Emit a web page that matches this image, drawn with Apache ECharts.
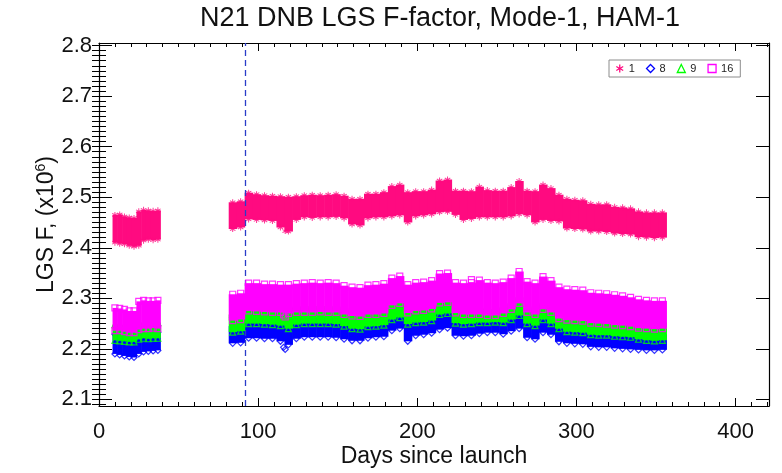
<!DOCTYPE html>
<html>
<head>
<meta charset="utf-8">
<script src="https://cdn.jsdelivr.net/npm/echarts@6/dist/echarts.min.js"></script>
<style>
  html, body { margin: 0; padding: 0; background: #fff; }
  #chart { width: 782px; height: 473px; }
</style>
</head>
<body>
<div id="chart"></div>
<script>
// Sample days (first block before the gap, then the long run)
const days = [
  10, 13, 16, 19, 22, 25, 28, 31, 34, 37,
  84, 89, 94, 99, 104, 109, 114, 119, 124, 129,
  134, 139, 144, 149, 154, 159, 164, 169, 174, 179,
  184, 189, 194, 199, 204, 209, 214, 219, 224, 229,
  234, 239, 244, 249, 254, 259, 264, 269, 274, 279,
  284, 289, 294, 299, 304, 309, 314, 319, 324, 329,
  334, 339, 344, 349, 354
];

// Detector 1: upper / lower envelope of the F-factor scatter
const f1Hi = [
  2.465, 2.466, 2.462, 2.460, 2.459, 2.472, 2.475, 2.474, 2.473, 2.474,
  2.490, 2.492, 2.509, 2.506, 2.504, 2.503, 2.502, 2.501, 2.502, 2.504,
  2.505, 2.504, 2.505, 2.506, 2.503, 2.497, 2.497, 2.507, 2.507, 2.510,
  2.522, 2.525, 2.510, 2.512, 2.512, 2.515, 2.533, 2.535, 2.513, 2.513,
  2.512, 2.521, 2.514, 2.513, 2.513, 2.520, 2.532, 2.513, 2.512, 2.525,
  2.518, 2.505, 2.497, 2.495, 2.494, 2.487, 2.486, 2.486, 2.481, 2.480,
  2.478, 2.472, 2.470, 2.470, 2.470
];
const f1Lo = [
  2.410, 2.408, 2.407, 2.404, 2.402, 2.404, 2.414, 2.416, 2.415, 2.416,
  2.437, 2.440, 2.456, 2.455, 2.454, 2.453, 2.440, 2.432, 2.455, 2.460,
  2.459, 2.460, 2.460, 2.461, 2.458, 2.446, 2.444, 2.458, 2.460, 2.460,
  2.462, 2.464, 2.450, 2.462, 2.464, 2.466, 2.470, 2.471, 2.465, 2.455,
  2.457, 2.460, 2.460, 2.460, 2.460, 2.462, 2.466, 2.464, 2.450, 2.455,
  2.453, 2.452, 2.438, 2.437, 2.436, 2.432, 2.432, 2.431, 2.428, 2.427,
  2.426, 2.421, 2.420, 2.419, 2.420
];

// Detector 8
const f8Hi = [
  2.229, 2.228, 2.227, 2.226, 2.226, 2.231, 2.233, 2.232, 2.233, 2.233,
  2.245, 2.247, 2.262, 2.262, 2.261, 2.260, 2.258, 2.252, 2.260, 2.262,
  2.262, 2.262, 2.262, 2.261, 2.257, 2.252, 2.251, 2.256, 2.257, 2.259,
  2.270, 2.274, 2.261, 2.264, 2.265, 2.268, 2.280, 2.282, 2.263, 2.261,
  2.262, 2.264, 2.264, 2.265, 2.264, 2.270, 2.278, 2.262, 2.258, 2.270,
  2.262, 2.252, 2.246, 2.245, 2.244, 2.240, 2.239, 2.239, 2.237, 2.236,
  2.235, 2.231, 2.229, 2.228, 2.229
];
const f8Lo = [
  2.190, 2.188, 2.186, 2.184, 2.183, 2.190, 2.194, 2.195, 2.196, 2.197,
  2.211, 2.212, 2.221, 2.221, 2.220, 2.220, 2.215, 2.208, 2.220, 2.223,
  2.223, 2.223, 2.223, 2.222, 2.219, 2.216, 2.216, 2.221, 2.223, 2.224,
  2.236, 2.240, 2.215, 2.226, 2.228, 2.231, 2.238, 2.241, 2.226, 2.225,
  2.226, 2.230, 2.232, 2.232, 2.229, 2.235, 2.240, 2.222, 2.219, 2.232,
  2.228, 2.214, 2.211, 2.210, 2.209, 2.204, 2.203, 2.203, 2.201, 2.200,
  2.199, 2.198, 2.197, 2.197, 2.198
];

// Detector 9
const f9Hi = [
  2.248, 2.248, 2.246, 2.244, 2.244, 2.250, 2.252, 2.252, 2.253, 2.252,
  2.268, 2.270, 2.287, 2.286, 2.285, 2.284, 2.284, 2.282, 2.284, 2.284,
  2.284, 2.285, 2.284, 2.284, 2.280, 2.277, 2.276, 2.280, 2.280, 2.282,
  2.298, 2.302, 2.283, 2.287, 2.288, 2.291, 2.303, 2.304, 2.283, 2.280,
  2.280, 2.280, 2.278, 2.278, 2.282, 2.290, 2.302, 2.284, 2.280, 2.290,
  2.284, 2.272, 2.269, 2.268, 2.267, 2.263, 2.262, 2.261, 2.259, 2.258,
  2.256, 2.253, 2.252, 2.251, 2.252
];
const f9Lo = [
  2.217, 2.216, 2.215, 2.214, 2.214, 2.219, 2.221, 2.220, 2.221, 2.221,
  2.233, 2.235, 2.250, 2.250, 2.249, 2.248, 2.246, 2.240, 2.248, 2.250,
  2.250, 2.250, 2.250, 2.249, 2.245, 2.240, 2.239, 2.244, 2.245, 2.247,
  2.258, 2.262, 2.249, 2.252, 2.253, 2.256, 2.268, 2.270, 2.251, 2.249,
  2.250, 2.252, 2.252, 2.253, 2.252, 2.258, 2.266, 2.250, 2.246, 2.258,
  2.250, 2.240, 2.234, 2.233, 2.232, 2.228, 2.227, 2.227, 2.225, 2.224,
  2.223, 2.219, 2.217, 2.216, 2.217
];

// Detector 16
const f16Hi = [
  2.281, 2.280, 2.278, 2.275, 2.275, 2.294, 2.296, 2.295, 2.295, 2.296,
  2.308, 2.310, 2.330, 2.330, 2.328, 2.328, 2.327, 2.327, 2.329, 2.330,
  2.331, 2.330, 2.331, 2.330, 2.325, 2.322, 2.321, 2.326, 2.327, 2.329,
  2.340, 2.344, 2.327, 2.331, 2.332, 2.335, 2.349, 2.350, 2.331, 2.330,
  2.331, 2.336, 2.331, 2.330, 2.332, 2.340, 2.353, 2.333, 2.330, 2.343,
  2.335, 2.322, 2.318, 2.317, 2.316, 2.311, 2.310, 2.309, 2.307, 2.305,
  2.302, 2.298, 2.296, 2.295, 2.295
];
const f16Lo = [
  2.236, 2.236, 2.234, 2.232, 2.232, 2.238, 2.240, 2.240, 2.241, 2.240,
  2.256, 2.258, 2.275, 2.274, 2.273, 2.272, 2.272, 2.270, 2.272, 2.272,
  2.272, 2.273, 2.272, 2.272, 2.268, 2.265, 2.264, 2.268, 2.268, 2.270,
  2.286, 2.290, 2.271, 2.275, 2.276, 2.279, 2.291, 2.292, 2.271, 2.268,
  2.268, 2.268, 2.266, 2.266, 2.270, 2.278, 2.290, 2.272, 2.268, 2.278,
  2.272, 2.260, 2.257, 2.256, 2.255, 2.251, 2.250, 2.249, 2.247, 2.246,
  2.244, 2.241, 2.240, 2.239, 2.240
];

// Isolated points sitting outside the bands
const f1Stray = [[117, 2.433]];
const f8Stray = [[116, 2.203], [117, 2.199]];
const f16Stray = [[116, 2.267], [117, 2.263], [234, 2.337]];

// Axes
const xMajor = [0, 100, 200, 300, 400];
const yMajor = [2.1, 2.2, 2.3, 2.4, 2.5, 2.6, 2.7, 2.8];
const X_MIN = 0, X_MAX = 421;
const Y_MIN = 2.087, Y_MAX = 2.805;
const markerDay = 92;

const xMinor = [];
for (let v = 0; v <= 420; v += 10) xMinor.push(v);
const yMinor = [];
for (let k = 209; k <= 280; k++) yMinor.push(k / 100);

const FONT = 'Liberation Sans, Arial, Helvetica, sans-serif';
const C1 = '#ff0a80', C8 = '#0000ff', C9 = '#00ff00', C16 = '#ff00ff';
const ASTERISK = 'path://M4.2,0h1.6v3.6l3.1-1.8 0.8,1.4-3.1,1.8 3.1,1.8-0.8,1.4-3.1-1.8v3.6h-1.6v-3.6l-3.1,1.8-0.8-1.4 3.1-1.8-3.1-1.8 0.8-1.4 3.1,1.8z';

// Fill between the envelope values of each sample, spanning half way to its neighbours
function bandRenderer(color) {
  return function (params, api) {
    const i = params.dataIndex;
    const d = days[i];
    const prev = i > 0 && d - days[i - 1] < 8 ? days[i - 1] : null;
    const next = i < days.length - 1 && days[i + 1] - d < 8 ? days[i + 1] : null;
    const left = prev !== null ? (d + prev) / 2 : d - (next - d) / 2;
    const right = next !== null ? (d + next) / 2 : d + (d - prev) / 2;
    const p0 = api.coord([left, api.value(2)]);
    const p1 = api.coord([right, api.value(1)]);
    return {
      type: 'rect',
      shape: { x: p0[0], y: p0[1], width: p1[0] - p0[0] + 0.6, height: p1[1] - p0[1] },
      style: { fill: color }
    };
  };
}

function bandSeries(name, color, lo, hi, z) {
  return {
    name: name,
    type: 'custom',
    z: z,
    renderItem: bandRenderer(color),
    encode: { x: 0, y: [1, 2] },
    itemStyle: { color: color },
    data: days.map((d, i) => [d, lo[i], hi[i]]),
    silent: true
  };
}

function edgeSeries(name, color, symbol, filled, lo, hi, stray, z) {
  const pts = [];
  days.forEach((d, i) => { pts.push([d, lo[i]]); pts.push([d, hi[i]]); });
  (stray || []).forEach(p => pts.push(p));
  return {
    name: name,
    type: 'scatter',
    z: z,
    symbol: symbol,
    symbolSize: 6,
    itemStyle: filled
      ? { color: color }
      : { color: 'rgba(0,0,0,0)', borderColor: color, borderWidth: 1.2 },
    data: pts,
    silent: true
  };
}

const axisLine = { show: true, onZero: false, lineStyle: { color: '#000', width: 1.2 } };
const tickStyle = { color: '#000', width: 1 };

function xAx(pos, major, label) {
  const o = {
    type: 'value', min: X_MIN, max: X_MAX, position: pos,
    axisLine: major ? axisLine : { show: false },
    axisTick: { show: true, inside: true, length: major ? 8 : 4,
                customValues: major ? xMajor : xMinor, lineStyle: tickStyle },
    axisLabel: { show: false },
    splitLine: { show: false }
  };
  if (label) {
    o.axisLabel = { show: true, customValues: xMajor, margin: 15,
                    fontFamily: FONT, fontSize: 22, color: '#111',
                    formatter: v => String(Math.round(v)) };
    o.name = 'Days since launch';
    o.nameLocation = 'middle';
    o.nameGap = 39;
    o.nameMoveOverlap = false;
    o.nameTextStyle = { fontFamily: FONT, fontSize: 23, color: '#111' };
  }
  return o;
}

function yAx(pos, major, label) {
  const o = {
    type: 'value', min: Y_MIN, max: Y_MAX, position: pos,
    axisLine: major ? axisLine : { show: false },
    axisTick: { show: true, inside: true, length: major ? 13 : 7,
                customValues: major ? yMajor : yMinor, lineStyle: tickStyle },
    axisLabel: { show: false },
    splitLine: { show: false }
  };
  if (label) {
    o.axisLabel = { show: true, customValues: yMajor, margin: 7,
                    fontFamily: FONT, fontSize: 22, color: '#111',
                    formatter: v => v.toFixed(1) };
    o.name = 'LGS F, (x10{sup|6})';
    o.nameLocation = 'middle';
    o.nameRotate = 90;
    o.nameGap = 39;
    o.nameMoveOverlap = false;
    o.nameTextStyle = {
      fontFamily: FONT, fontSize: 23, color: '#111',
      rich: { sup: { fontFamily: FONT, fontSize: 14, color: '#111', padding: [0, 0, 12, 0] } }
    };
  }
  return o;
}

const chart = echarts.init(document.getElementById('chart'), null, { renderer: 'canvas' });

chart.setOption({
  animation: false,
  backgroundColor: '#fff',
  title: {
    text: 'N21 DNB LGS F-factor, Mode-1, HAM-1',
    left: 440, top: 5, textAlign: 'center', padding: 0,
    textStyle: { fontFamily: FONT, fontSize: 27, fontWeight: 'normal', color: '#111' }
  },
  legend: {
    left: 609, top: 60,
    padding: [3, 7, 3, 7],
    itemGap: 11, itemWidth: 8, itemHeight: 8,
    borderColor: '#8c8c8c', borderWidth: 1, backgroundColor: '#fff',
    textStyle: { fontFamily: FONT, fontSize: 11, color: '#222' },
    data: [
      { name: '1', icon: ASTERISK, itemStyle: { color: C1 } },
      { name: '8', icon: 'diamond', itemStyle: { color: 'rgba(0,0,0,0)', borderColor: C8, borderWidth: 1.3 } },
      { name: '9', icon: 'triangle', itemStyle: { color: 'rgba(0,0,0,0)', borderColor: C9, borderWidth: 1.3 } },
      { name: '16', icon: 'rect', itemStyle: { color: 'rgba(0,0,0,0)', borderColor: C16, borderWidth: 1.3 } }
    ]
  },
  grid: { left: 99, right: 13, top: 43, bottom: 62, containLabel: false },
  xAxis: [
    xAx('bottom', true, true),
    xAx('bottom', false, false),
    xAx('top', true, false),
    xAx('top', false, false)
  ],
  yAxis: [
    yAx('left', true, true),
    yAx('left', false, false),
    yAx('right', true, false),
    yAx('right', false, false)
  ],
  series: [
    bandSeries('1', C1, f1Lo, f1Hi, 2),
    edgeSeries('1', C1, ASTERISK, true, f1Lo, f1Hi, f1Stray, 3),
    bandSeries('8', C8, f8Lo, f8Hi, 4),
    edgeSeries('8', C8, 'diamond', false, f8Lo, f8Hi, f8Stray, 5),
    bandSeries('9', C9, f9Lo, f9Hi, 6),
    edgeSeries('9', C9, 'triangle', false, f9Lo, f9Hi, [], 7),
    bandSeries('16', C16, f16Lo, f16Hi, 8),
    Object.assign(edgeSeries('16', C16, 'rect', false, f16Lo, f16Hi, f16Stray, 9), {
      markLine: {
        silent: true, symbol: 'none', label: { show: false },
        lineStyle: { color: '#2a3cc8', type: [6, 4], width: 1.3 },
        data: [{ xAxis: markerDay }]
      }
    })
  ]
});
</script>
</body>
</html>
